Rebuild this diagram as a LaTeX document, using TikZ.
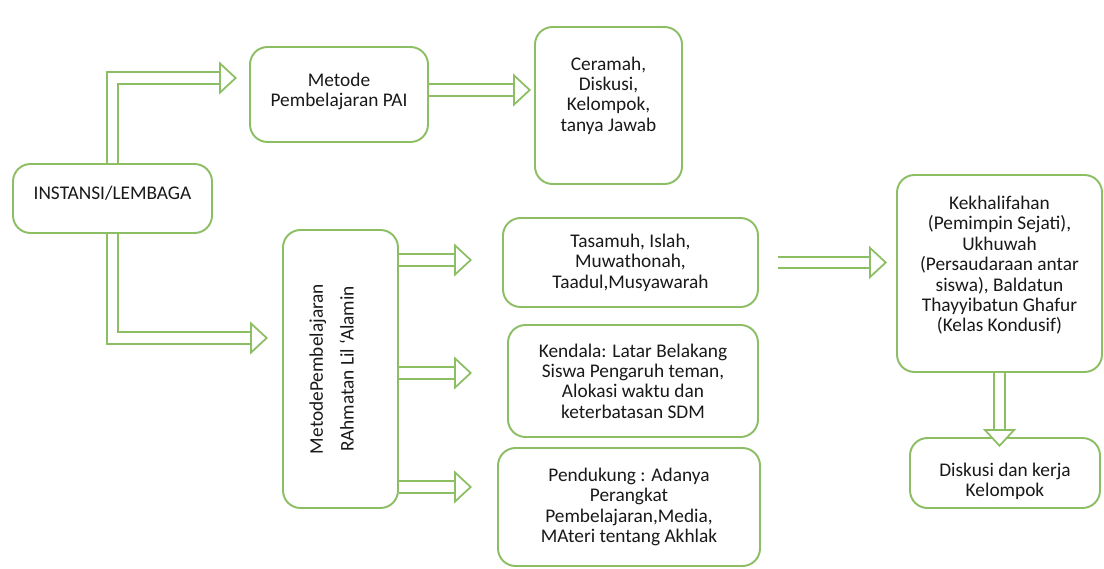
\documentclass[tikz,border=0pt]{standalone}
\usepackage{fontspec}
\setmainfont{Carlito}
\usepackage{tikz}
\usetikzlibrary{arrows.meta}
\definecolor{boxgreen}{RGB}{140,190,100}

\begin{document}
\begin{tikzpicture}[
    box/.style={draw=boxgreen, line width=1.1pt, rounded corners=0.35cm, fill=white, align=center,
                text=black!90, font=\fontsize{11}{11.6}\selectfont},
    dblarrow/.style={draw=boxgreen, line width=1pt, double=white, double distance=0.19cm,
                -{Triangle[open, fill=white, length=0.36cm, width=0.66cm]}}]

    \useasboundingbox (0,0) rectangle (22.08,-11.38);

    % Nodes
    \node at (2.25,-3.97) (inst) [box, minimum width=3.98cm, minimum height=1.38cm] {INSTANSI/LEMBAGA\\[-5pt]};
    \node at (6.78,-1.89) (pai) [box, minimum width=3.56cm, minimum height=1.90cm] {Metode\\Pembelajaran PAI\\[-6.5pt]};
    \node at (12.17,-2.11) (ceramah) [box, minimum width=2.94cm, minimum height=3.14cm] {Ceramah,\\Diskusi,\\Kelompok,\\tanya Jawab\\[1.4pt]};
    \node at (6.81,-7.38) (rahmat) [box, rotate=90, minimum width=5.56cm, minimum height=2.30cm,
                                    font=\fontsize{11}{17.5}\selectfont] {MetodePembelajaran\\RAhmatan Lil `Alamin\\[-7.3pt]};
    \node at (12.61,-5.25) (tasamuh) [box, minimum width=5.10cm, minimum height=1.78cm] {Tasamuh, Islah,\\Muwathonah,\\Taadul,Musyawarah};
    \node at (12.66,-7.62) (kendala) [box, minimum width=5.00cm, minimum height=2.24cm] {Kendala: Latar Belakang\\Siswa Pengaruh teman,\\Alokasi waktu dan\\keterbatasan SDM};
    \node at (12.58,-10.14) (pendukung) [box, minimum width=5.24cm, minimum height=2.36cm] {Pendukung : Adanya\\Perangkat\\Pembelajaran,Media,\\MAteri tentang Akhlak};
    \node at (19.99,-5.47) (kekh) [box, minimum width=4.10cm, minimum height=3.94cm] {Kekhalifahan\\(Pemimpin Sejati),\\Ukhuwah\\(Persaudaraan antar\\siswa), Baldatun\\Thayyibatun Ghafur\\(Kelas Kondusif)\\[-0.8pt]};
    \node at (20.10,-9.46) (diskusi) [box, minimum width=3.80cm, minimum height=1.40cm] {\\[5.6pt]Diskusi dan kerja\\Kelompok};

    % Arrows
    \draw[dblarrow] (inst.north) |- (4.74,-1.56);
    \draw[dblarrow] (inst.south) |- (5.36,-6.76);
    \draw[dblarrow, shorten >=0.06cm] (pai.east |- 0,-1.80) -- (ceramah.west |- 0,-1.80);
    \draw[dblarrow] (rahmat.south |- 0,-5.20) -- (9.44,-5.20);
    \draw[dblarrow] (rahmat.south |- 0,-7.46) -- (9.44,-7.46);
    \draw[dblarrow] (rahmat.south |- 0,-9.74) -- (9.44,-9.74);
    \draw[dblarrow, shorten <=0.38cm, shorten >=0.18cm] (tasamuh.east) -- (tasamuh.east -| kekh.west);
    \draw[dblarrow, shorten >=-0.2cm] (kekh.south) -- (kekh.south |- diskusi.north);

\end{tikzpicture}
\end{document}
